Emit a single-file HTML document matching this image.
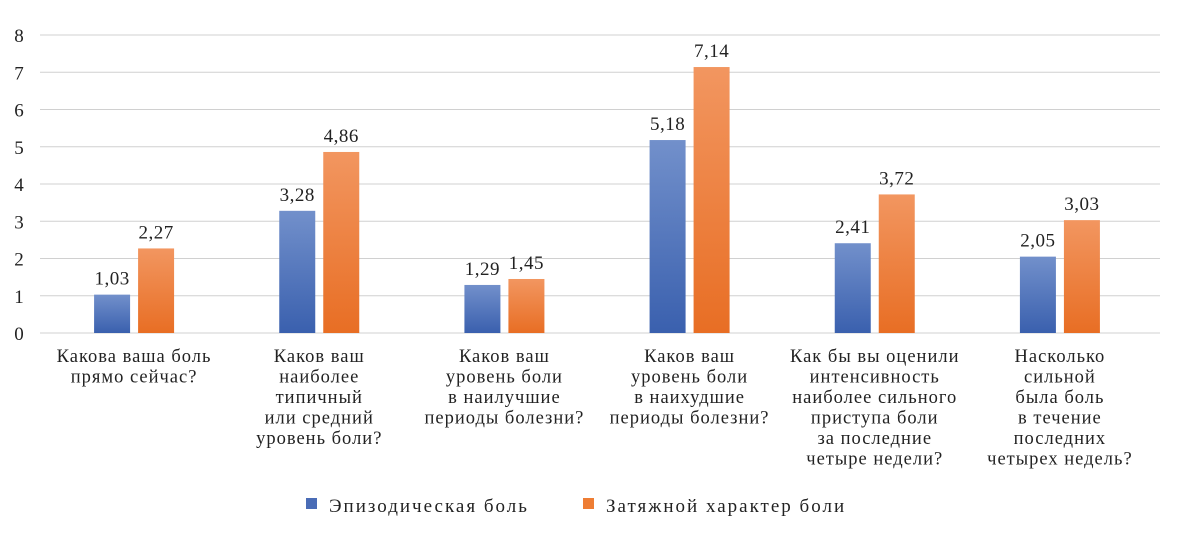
<!DOCTYPE html>
<html><head><meta charset="utf-8"><style>
body{margin:0;background:#fff;}
svg text{font-family:"Liberation Serif","DejaVu Serif",serif;fill:#222;}
</style></head><body>
<svg id="chart" width="1183" height="531" viewBox="0 0 1183 531" xmlns="http://www.w3.org/2000/svg">
<defs>
<linearGradient id="gb" x1="0" y1="0" x2="0" y2="1"><stop offset="0" stop-color="#7290cb"/><stop offset="1" stop-color="#3a60ae"/></linearGradient>
<linearGradient id="go" x1="0" y1="0" x2="0" y2="1"><stop offset="0" stop-color="#f29660"/><stop offset="1" stop-color="#e86e24"/></linearGradient>
</defs>
<g id="grid"></g><g id="bars"></g><g id="labels"></g>
<g>
<rect x="306" y="498" width="11" height="11" fill="#4a6cb6"/>
<text x="329" y="512" font-size="19" letter-spacing="2">Эпизодическая боль</text>
<rect x="583" y="498" width="11" height="11" fill="#ee7d34"/>
<text x="606" y="512" font-size="19" letter-spacing="2">Затяжной характер боли</text>
</g>
</svg>
<script>
const categories=[
["Какова ваша боль","прямо сейчас?"],
["Каков ваш","наиболее","типичный","или средний","уровень боли?"],
["Каков ваш","уровень боли","в наилучшие","периоды болезни?"],
["Каков ваш","уровень боли","в наихудшие","периоды болезни?"],
["Как бы вы оценили","интенсивность","наиболее сильного","приступа боли","за последние","четыре недели?"],
["Насколько","сильной","была боль","в течение","последних","четырех недель?"]];
const episodic=[1.03,3.28,1.29,5.18,2.41,2.05];
const prolonged=[2.27,4.86,1.45,7.14,3.72,3.03];
const yTicks=[0,1,2,3,4,5,6,7,8];
const NS="http://www.w3.org/2000/svg";
const gx0=40,gx1=1160,px0=41.5,px1=1152.5,y0=333,yTop=35,yMax=8;
const y=v=>y0-(v/yMax)*(y0-yTop);
const gw=(px1-px0)/categories.length;
function mk(tag,attrs,parent,txt){const e=document.createElementNS(NS,tag);for(const k in attrs)e.setAttribute(k,attrs[k]);if(txt!==undefined)e.textContent=txt;parent.appendChild(e);return e;}
const grid=document.getElementById('grid'),bars=document.getElementById('bars'),labels=document.getElementById('labels');
yTicks.forEach(t=>{
 const l=mk('line',{x1:gx0,x2:gx1,y1:y(t),y2:y(t),stroke:'#d0d0d0','stroke-width':1},grid);
 
 
 const tx=mk('text',{x:19,y:y(t)+7,'font-size':19,'text-anchor':'middle'},grid,String(t));
 
 
});
const fmt=v=>v.toFixed(2).replace('.',',');
categories.forEach((c,i)=>{
 const cx=px0+gw*(i+0.5);
 [[episodic[i],cx-40,'url(#gb)','episodic'],[prolonged[i],cx+4,'url(#go)','prolonged']].forEach(([v,bx,f,n])=>{
  const r=mk('rect',{x:bx,y:y(v),width:36,height:y0-y(v),fill:f},bars);
  
  
  const t=mk('text',{x:bx+18,y:y(v)-10,'font-size':19,'letter-spacing':0.5,'text-anchor':'middle'},labels,fmt(v));
  
  
 });
 const g=mk('text',{'font-size':18.5,'letter-spacing':1,'text-anchor':'middle'},labels);
 
 
 c.forEach((line,j)=>mk('tspan',{x:cx,y:362+j*20.5},g,line));
});
</script>
</body></html>
